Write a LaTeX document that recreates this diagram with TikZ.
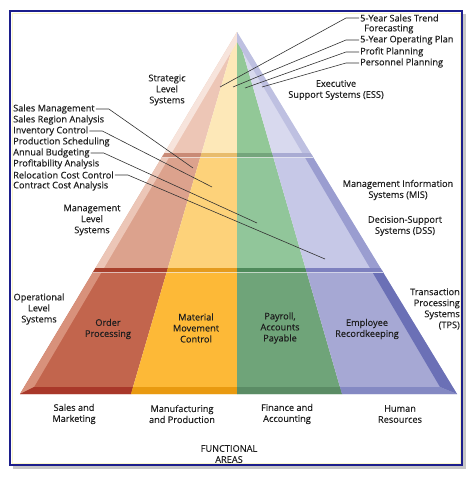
\documentclass[tikz,border=0pt]{standalone}
\usepackage{fontspec}
\setmainfont{Open Sans}[FakeBold=0.25]
\usepackage{tkz-euclide}
\definecolor{FrameClr}{RGB}{28,30,140}
\definecolor{FrameInClr}{RGB}{250,246,200}
\definecolor{TextClr}{RGB}{30,30,30}
\definecolor{LeaderClr}{RGB}{50,50,50}
\definecolor{RedTopClr}{RGB}{237,198,182}
\definecolor{YelTopClr}{RGB}{253,232,184}
\definecolor{GrnTopClr}{RGB}{146,200,151}
\definecolor{BluTopClr}{RGB}{216,217,238}
\definecolor{RedMidClr}{RGB}{220,162,141}
\definecolor{YelMidClr}{RGB}{253,210,122}
\definecolor{GrnMidClr}{RGB}{145,198,154}
\definecolor{BluMidClr}{RGB}{198,200,231}
\definecolor{RedLowClr}{RGB}{194,101,77}
\definecolor{YelLowClr}{RGB}{253,185,55}
\definecolor{GrnLowClr}{RGB}{111,164,121}
\definecolor{BluLowClr}{RGB}{166,168,212}
\definecolor{RedTopBandClr}{RGB}{201,138,118}
\definecolor{YelTopBandClr}{RGB}{232,188,108}
\definecolor{GrnTopBandClr}{RGB}{116,165,124}
\definecolor{BluTopBandClr}{RGB}{169,171,211}
\definecolor{RedMidBandClr}{RGB}{168,64,44}
\definecolor{YelMidBandClr}{RGB}{228,155,30}
\definecolor{GrnMidBandClr}{RGB}{79,139,91}
\definecolor{BluMidBandClr}{RGB}{126,129,191}
\definecolor{RedBaseClr}{RGB}{169,56,42}
\definecolor{YelBaseClr}{RGB}{233,154,16}
\definecolor{GrnBaseClr}{RGB}{91,140,101}
\definecolor{BluBaseClr}{RGB}{132,137,195}
\definecolor{LeftTopClr}{RGB}{247,228,220}
\definecolor{LeftMidClr}{RGB}{236,198,183}
\definecolor{LeftLowClr}{RGB}{216,145,123}
\definecolor{RightTopClr}{RGB}{190,192,225}
\definecolor{RightMidClr}{RGB}{154,157,208}
\definecolor{RightLowClr}{RGB}{107,112,182}
\tikzset{lbl/.style={font=\fontsize{9.2}{11}\selectfont,text=TextClr,align=center,inner sep=1pt},
  leader/.style={draw=LeaderClr,line width=.6pt}}

\begin{document}
\begin{tikzpicture}[x=1pt,y=-1pt]
\useasboundingbox (0,0) rectangle (474,479);
\fill[black!40,opacity=.55] (13,14) rectangle (466,469);
\fill[white] (10,11) rectangle (462,465);
\draw[FrameInClr,line width=1pt] (12,13) rectangle (460,463);
\draw[FrameClr,line width=2pt] (10,11) rectangle (462,465);

\tkzDefPoints{237/32/A,20/394/BL,457/394/BR,131/394/B1,237/394/B2,342/394/B3}
\tkzDefPoints{237/42/IA,34/387/IL,440/387/IR,133/387/I1,237/387/I2,340/387/I3}

\foreach \ya/\yb/\cr/\cy/\cg/\cb in {30/155/RedTopClr/YelTopClr/GrnTopClr/BluTopClr,
  155/270/RedMidClr/YelMidClr/GrnMidClr/BluMidClr,
  270/395/RedLowClr/YelLowClr/GrnLowClr/BluLowClr}{
\begin{scope}
\clip (0,\ya) rectangle (474,\yb);
\tkzFillPolygon[fill=\cr](A,BL,B1)
\tkzFillPolygon[fill=\cy](A,B1,B2)
\tkzFillPolygon[fill=\cg](A,B2,B3)
\tkzFillPolygon[fill=\cb](A,B3,BR)
\end{scope}}

\foreach \ya/\yb/\cl/\cri in {30/155/LeftTopClr/RightTopClr,
  155/270/LeftMidClr/RightMidClr,270/395/LeftLowClr/RightLowClr}{
\begin{scope}
\clip (0,\ya) rectangle (474,\yb);
\tkzFillPolygon[fill=\cl](A,BL,IL,IA)
\tkzFillPolygon[fill=\cri](A,IA,IR,BR)
\end{scope}}

\foreach \ya/\yb/\cr/\cy/\cg/\cb in {153/157/RedTopBandClr/YelTopBandClr/GrnTopBandClr/BluTopBandClr,
  268/272/RedMidBandClr/YelMidBandClr/GrnMidBandClr/BluMidBandClr}{
\begin{scope}
\clip (0,\ya) rectangle (474,\yb);
\tkzFillPolygon[fill=\cr](A,BL,B1)
\tkzFillPolygon[fill=\cy](A,B1,B2)
\tkzFillPolygon[fill=\cg](A,B2,B3)
\tkzFillPolygon[fill=\cb](A,B3,BR)
\end{scope}
\begin{scope}
\clip (A)--(BL)--(BR)--cycle;
\fill[white,opacity=.65] (0,\yb) rectangle (474,\yb+1.3);
\end{scope}}

\tkzFillPolygon[fill=RedBaseClr](BL,B1,I1,IL)
\tkzFillPolygon[fill=YelBaseClr](B1,B2,I2,I1)
\tkzFillPolygon[fill=GrnBaseClr](B2,B3,I3,I2)
\tkzFillPolygon[fill=BluBaseClr](B3,BR,IR,I3)

\node[lbl] (strat) at (167,90) {Strategic\\Level\\Systems};
\node[lbl] (ess) at (336,90) {Executive\\Support Systems (ESS)};
\node[lbl] (mgmt) at (92,220) {Management\\Level\\Systems};
\node[lbl] (mis) at (398,190) {Management Information\\Systems (MIS)};
\node[lbl] (dss) at (405,226) {Decision-Support\\Systems (DSS)};
\node[lbl] (oper) at (39,309) {Operational\\Level\\Systems};
\node[lbl,anchor=east,align=right] (tps) at (461,309) {Transaction\\Processing\\Systems\\(TPS)};
\node[lbl] (order) at (108,329) {Order\\Processing};
\node[lbl] (matl) at (196,328) {Material\\Movement\\Control};
\node[lbl] (payroll) at (280,328) {Payroll,\\Accounts\\Payable};
\node[lbl] (employee) at (367,329) {Employee\\Recordkeeping};
\node[lbl] (salesmkt) at (74,414) {Sales and\\Marketing};
\node[lbl] (manuf) at (182,414) {Manufacturing\\and Production};
\node[lbl] (finance) at (287,414) {Finance and\\Accounting};
\node[lbl] (hr) at (400,414) {Human\\Resources};
\node[lbl] (func) at (229,454) {FUNCTIONAL\\AREAS};

\foreach \t [count=\i] in {Sales Management,Sales Region Analysis,Inventory Control,
  Production Scheduling,Annual Budgeting,Profitability Analysis,
  Relocation Cost Control,Contract Cost Analysis}
  \node[lbl,anchor=west] (L\i) at (12,{98+11*\i}) {\t};

\foreach \t/\x/\y [count=\i] in {5-Year Sales Trend/359/18,Forecasting/363/29,
  5-Year Operating Plan/359/40,Profit Planning/359/52,Personnel Planning/359/63}
  \node[lbl,anchor=west] (R\i) at (\x,\y) {\t};

\coordinate (E1) at (193,168);
\coordinate (E3) at (212,187);
\coordinate (E5) at (257,223);
\coordinate (E7) at (325,259);
\coordinate (F1) at (220,87);
\coordinate (F3) at (233,87);
\coordinate (F4) at (245,88);
\coordinate (F5) at (262,87);

\foreach \i in {1,3,5,7}
  \draw[leader] (L\i.east) -- ++(13,0) -- (E\i);
\foreach \i in {1,3,4,5}
  \draw[leader] (R\i.west) -- ++(-13,0) -- (F\i);

\end{tikzpicture}
\end{document}
